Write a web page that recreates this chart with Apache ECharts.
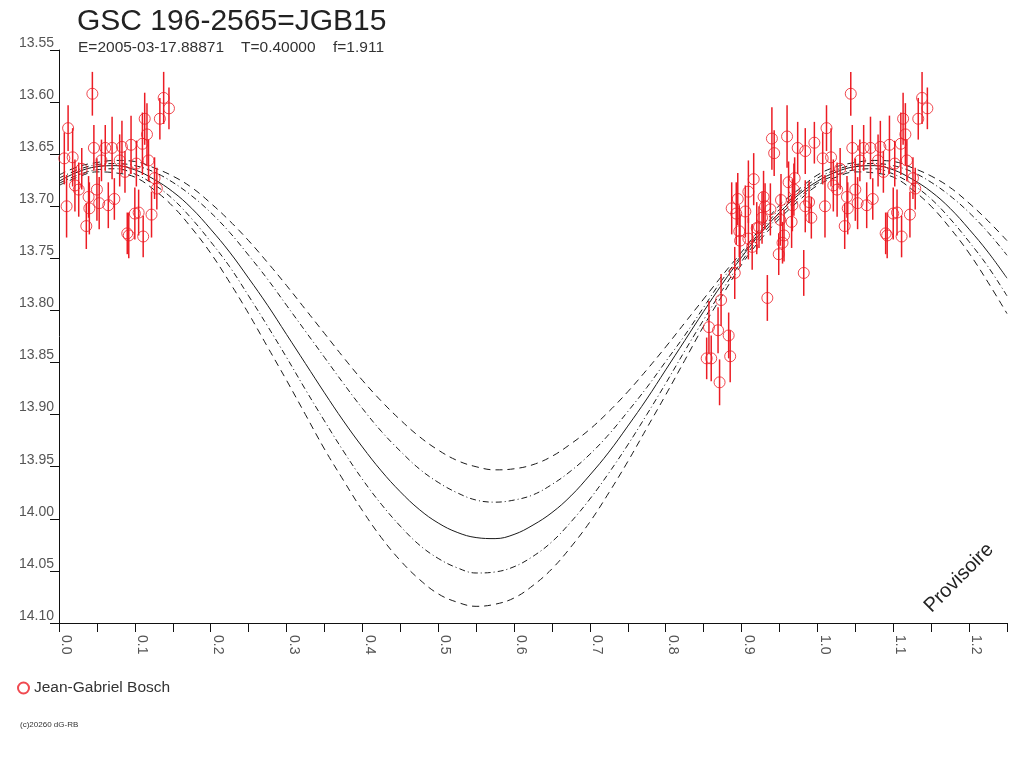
<!DOCTYPE html>
<html>
<head>
<meta charset="utf-8">
<title>GSC 196-2565=JGB15</title>
<script src="https://cdn.jsdelivr.net/npm/echarts@6/dist/echarts.min.js"></script>
<style>
html, body { margin: 0; padding: 0; background: #fff; }
#chart { width: 1024px; height: 768px; }
</style>
</head>
<body>
<div id="chart"></div>
<script>
// phase grid of the model curves
const phaseGrid = [0, 0.025, 0.05, 0.075, 0.1, 0.125, 0.15, 0.175, 0.2, 0.225, 0.25, 0.275, 0.3, 0.325, 0.35,
  0.375, 0.4, 0.425, 0.45, 0.475, 0.5, 0.525, 0.55, 0.575, 0.6, 0.625, 0.65, 0.675, 0.7, 0.725, 0.75,
  0.775, 0.8, 0.825, 0.85, 0.875, 0.9, 0.925, 0.95, 0.975, 1.0, 1.025, 1.05, 1.075, 1.1, 1.125, 1.15,
  1.175, 1.2, 1.225, 1.25];

// model curves (outer dashed, dash-dot, solid, dash-dot, outer dashed)
const curveA = [13.670, 13.662, 13.658, 13.656, 13.657, 13.663, 13.671, 13.682, 13.697, 13.714, 13.733,
  13.754, 13.776, 13.799, 13.822, 13.845, 13.867, 13.887, 13.905, 13.921, 13.934, 13.944, 13.950, 13.953,
  13.952, 13.948, 13.940, 13.928, 13.914, 13.897, 13.878, 13.857, 13.835, 13.812, 13.789, 13.766, 13.744,
  13.721, 13.699, 13.684, 13.670, 13.662, 13.658, 13.656, 13.657, 13.663, 13.671, 13.682, 13.697, 13.714, 13.733];
const curveB = [13.673, 13.665, 13.660, 13.659, 13.661, 13.667, 13.677, 13.690, 13.706, 13.725, 13.747,
  13.770, 13.795, 13.820, 13.845, 13.870, 13.894, 13.916, 13.935, 13.952, 13.965, 13.975, 13.982, 13.984,
  13.982, 13.977, 13.967, 13.954, 13.938, 13.919, 13.897, 13.874, 13.849, 13.824, 13.797, 13.770, 13.747,
  13.724, 13.703, 13.687, 13.673, 13.665, 13.660, 13.659, 13.661, 13.667, 13.677, 13.690, 13.706, 13.725, 13.747];
const curveC = [13.676, 13.667, 13.662, 13.661, 13.665, 13.674, 13.686, 13.702, 13.722, 13.744, 13.769,
  13.795, 13.823, 13.851, 13.879, 13.906, 13.931, 13.954, 13.974, 13.991, 14.004, 14.013, 14.018, 14.019,
  14.015, 14.006, 13.994, 13.978, 13.958, 13.936, 13.911, 13.885, 13.857, 13.829, 13.801, 13.774, 13.749,
  13.726, 13.706, 13.689, 13.676, 13.667, 13.662, 13.661, 13.665, 13.674, 13.686, 13.702, 13.722, 13.744, 13.769];
const curveD = [13.678, 13.670, 13.665, 13.664, 13.669, 13.679, 13.693, 13.712, 13.734, 13.758, 13.786,
  13.815, 13.845, 13.876, 13.906, 13.935, 13.962, 13.986, 14.007, 14.025, 14.038, 14.047, 14.052, 14.051,
  14.046, 14.036, 14.022, 14.003, 13.981, 13.956, 13.929, 13.900, 13.870, 13.839, 13.809, 13.780, 13.753,
  13.729, 13.709, 13.692, 13.678, 13.670, 13.665, 13.664, 13.669, 13.679, 13.693, 13.712, 13.734, 13.758, 13.786];
const curveE = [13.680, 13.672, 13.667, 13.668, 13.672, 13.684, 13.700, 13.721, 13.745, 13.773, 13.803,
  13.835, 13.867, 13.900, 13.933, 13.963, 13.992, 14.018, 14.040, 14.058, 14.072, 14.080, 14.084, 14.082,
  14.076, 14.064, 14.048, 14.027, 14.003, 13.975, 13.945, 13.913, 13.881, 13.848, 13.815, 13.785, 13.756,
  13.732, 13.712, 13.695, 13.680, 13.672, 13.667, 13.668, 13.672, 13.684, 13.700, 13.721, 13.745, 13.773, 13.803];

// observations (phase, magnitude, error)
const obsPhase = [0.007, 0.012, 0.010, 0.018, 0.021, 0.026, 0.030, 0.036, 0.039, 0.040, 0.044, 0.046, 0.050,
  0.053, 0.056, 0.061, 0.065, 0.070, 0.073, 0.080, 0.083, 0.087, 0.090, 0.092, 0.095, 0.100, 0.102, 0.105,
  0.110, 0.111, 0.113, 0.116, 0.118, 0.122, 0.126, 0.129, 0.133, 0.138, 0.145,
  0.854, 0.857, 0.860, 0.869, 0.871, 0.873, 0.883, 0.885, 0.887, 0.891, 0.893, 0.895, 0.897, 0.898, 0.905,
  0.909, 0.909, 0.914, 0.916, 0.920, 0.923, 0.927, 0.929, 0.931, 0.934, 0.938, 0.940, 0.943, 0.949, 0.951,
  0.952, 0.954, 0.956, 0.960, 0.962, 0.966, 0.967, 0.969, 0.970, 0.974, 0.982, 0.984, 0.984, 0.989, 0.992, 0.996];
const obsMag = [13.654, 13.625, 13.700, 13.653, 13.680, 13.684, 13.664, 13.719, 13.691, 13.702, 13.592, 13.644, 13.684,
  13.697, 13.656, 13.644, 13.699, 13.644, 13.693, 13.656, 13.643, 13.667, 13.726, 13.728, 13.641, 13.707, 13.659, 13.706,
  13.640, 13.729, 13.616, 13.631, 13.656, 13.708, 13.673, 13.683, 13.616, 13.596, 13.606,
  13.846, 13.816, 13.846, 13.819, 13.869, 13.790, 13.824, 13.844, 13.702, 13.764, 13.707, 13.693, 13.724, 13.733, 13.705,
  13.686, 13.731, 13.739, 13.674, 13.721, 13.720, 13.711, 13.691, 13.700, 13.788, 13.703, 13.635, 13.649, 13.746, 13.713,
  13.694, 13.735, 13.728, 13.633, 13.677, 13.715, 13.699, 13.684, 13.673, 13.644, 13.764, 13.647, 13.700, 13.696, 13.711, 13.639];
const obsErr = [0.025, 0.022, 0.030, 0.028, 0.025, 0.026, 0.020, 0.022, 0.020, 0.025, 0.021, 0.022, 0.030,
  0.025, 0.020, 0.022, 0.022, 0.030, 0.020, 0.025, 0.025, 0.020, 0.020, 0.022, 0.028, 0.025, 0.022, 0.022,
  0.030, 0.020, 0.025, 0.030, 0.020, 0.022, 0.020, 0.020, 0.020, 0.025, 0.020,
  0.020, 0.025, 0.022, 0.022, 0.022, 0.025, 0.022, 0.025, 0.025, 0.025, 0.030, 0.025, 0.025, 0.025, 0.025,
  0.030, 0.020, 0.022, 0.025, 0.025, 0.020, 0.025, 0.025, 0.022, 0.022, 0.025, 0.030, 0.022, 0.020, 0.025,
  0.025, 0.020, 0.025, 0.030, 0.020, 0.025, 0.025, 0.025, 0.020, 0.025, 0.022, 0.022, 0.025, 0.020, 0.020, 0.020];

const observer = 'Jean-Gabriel Bosch';
const red = '#ec1c24';
const font = '"Liberation Sans", Arial, sans-serif';

// phase diagram: every observation is shown at phase and phase + 1
let points = [];
let bars = [];
for (let k = 0; k < 2; k++) {
  obsPhase.forEach(function (p, i) {
    points.push([p + k, obsMag[i]]);
    bars.push([p + k, obsMag[i] - obsErr[i], obsMag[i] + obsErr[i]]);
  });
}

function curve(values, dash) {
  return {
    type: 'line',
    data: phaseGrid.map(function (p, i) { return [p, values[i]]; }),
    smooth: 0.4,
    showSymbol: false,
    silent: true,
    z: 1,
    lineStyle: { color: '#1a1a1a', width: 1, type: dash }
  };
}

let chart = echarts.init(document.getElementById('chart'));
chart.setOption({
  animation: false,
  backgroundColor: '#fff',
  grid: { left: 59, right: 17, top: 50, bottom: 145 },
  legend: {
    data: [observer],
    left: 12, top: 675,
    itemWidth: 11, itemHeight: 11, itemGap: 6,
    textStyle: { fontFamily: font, fontSize: 15.5, color: '#333' }
  },
  xAxis: {
    type: 'value', min: 0, max: 1.25, interval: 0.05,
    splitLine: { show: false },
    axisLine: { lineStyle: { color: '#111', width: 1 } },
    axisTick: { length: 9, lineStyle: { color: '#111' } },
    axisLabel: {
      rotate: -90, align: 'left', verticalAlign: 'bottom', margin: 12,
      fontFamily: font, fontSize: 14, color: '#555',
      formatter: function (v) {
        return Math.round(v * 20) % 2 === 0 ? v.toFixed(1) : '';
      }
    }
  },
  yAxis: {
    type: 'value', inverse: true, min: 13.55, max: 14.10, interval: 0.05,
    splitLine: { show: false },
    axisLine: { show: true, lineStyle: { color: '#111', width: 1 } },
    axisTick: { show: true, length: 9, lineStyle: { color: '#111' } },
    axisLabel: {
      margin: 5, verticalAlign: 'bottom',
      fontFamily: font, fontSize: 14, color: '#555',
      formatter: function (v) { return v.toFixed(2); }
    }
  },
  series: [
    curve(curveA, [7, 5]),
    curve(curveB, [6, 3, 1, 3]),
    curve(curveC, 'solid'),
    curve(curveD, [6, 3, 1, 3]),
    curve(curveE, [7, 5]),
    {
      type: 'custom',
      data: bars,
      clip: true,
      z: 2,
      encode: { x: 0, y: [1, 2] },
      renderItem: function (params, api) {
        let a = api.coord([api.value(0), api.value(1)]);
        let b = api.coord([api.value(0), api.value(2)]);
        return {
          type: 'line',
          shape: { x1: a[0], y1: a[1], x2: b[0], y2: b[1] },
          style: { stroke: red, lineWidth: 1.5 }
        };
      }
    },
    {
      name: observer,
      type: 'scatter',
      data: points,
      symbol: 'circle',
      symbolSize: 11,
      clip: true,
      z: 3,
      itemStyle: { color: 'rgba(255,255,255,0)', borderColor: red, borderWidth: 1 }
    }
  ],
  graphic: [
    { type: 'text', left: 77, top: 7, style: { text: 'GSC 196-2565=JGB15', font: '30px ' + font, fill: '#222' } },
    { type: 'text', left: 78, top: 40, style: { text: 'E=2005-03-17.88871', font: '15.5px ' + font, fill: '#333' } },
    { type: 'text', left: 241, top: 40, style: { text: 'T=0.40000', font: '15.5px ' + font, fill: '#333' } },
    { type: 'text', left: 333, top: 40, style: { text: 'f=1.911', font: '15.5px ' + font, fill: '#333' } },
    {
      type: 'text', x: 959, y: 578, rotation: Math.PI / 4,
      style: { text: 'Provisoire', font: '20px ' + font, fill: '#222', align: 'center', verticalAlign: 'middle' }
    },
    { type: 'text', left: 20, top: 721, style: { text: '(c)20260 dG-RB', font: '8px ' + font, fill: '#333' } }
  ]
});
</script>
</body>
</html>
